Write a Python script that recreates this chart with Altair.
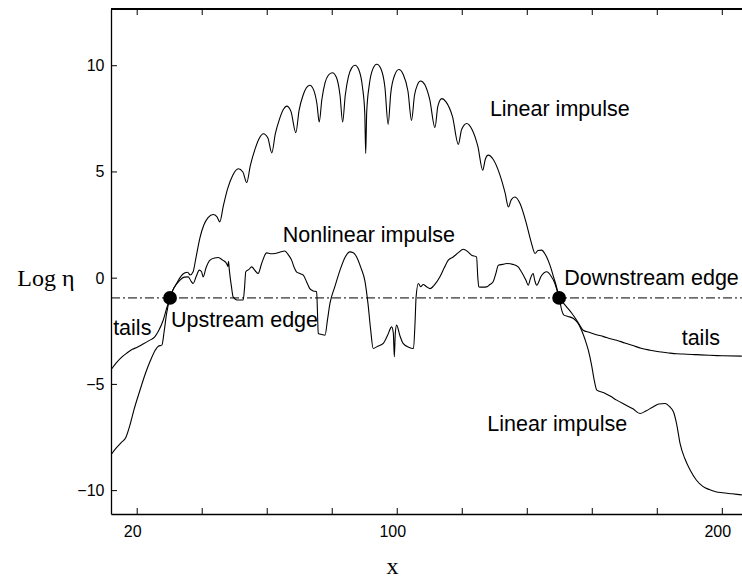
import altair as alt
import pandas as pd

# ---------------- data ----------------
lin_x = [12.0, 13.5, 15.0, 16.5, 17.8, 19.0, 20.8, 22.5, 24.0, 25.5, 26.5, 27.6, 28.3, 29.0, 30.1,
         31.0, 32.1, 33.5, 34.7, 35.5, 36.3, 37.2, 38.0, 39.3, 40.5, 41.8, 43.4, 44.5, 45.4,
         46.5, 47.8, 49.4, 51.1, 52.5, 53.7, 54.8, 56.3, 57.6, 58.8, 60.2, 61.4, 62.5, 63.8,
         65.0, 66.0, 67.3, 68.8, 69.8, 71.0, 72.0, 73.1, 74.3, 75.3, 76.0, 76.8, 77.8, 78.8,
         80.0, 81.3, 82.4, 83.2, 84.0, 85.0, 86.0, 87.0, 88.2, 89.3, 90.0, 90.3, 90.6, 91.4,
         92.5, 93.7, 95.0, 96.2, 97.2, 98.0, 99.2, 100.5, 101.8, 103.3, 104.4, 105.3, 106.2,
         107.2, 108.5, 110.0, 111.6, 112.5, 113.7, 115.0, 117.0, 118.8, 119.8, 121.4, 123.0,
         124.8, 126.3, 127.1, 128.0, 129.5, 131.5, 133.2, 134.2, 135.1, 136.2, 137.8, 139.5,
         141.2, 142.4, 143.3, 144.4, 145.6, 147.0, 148.2, 149.0, 149.8, 150.6, 151.3, 152.5,
         154.2, 155.5, 156.7, 157.8, 158.8, 159.8, 160.6, 161.4, 163.4, 165.5, 167.5, 170.0,
         172.5, 174.7, 176.5, 178.8, 180.5, 182.4, 183.8, 185.0, 186.0, 187.0, 188.5, 190.1,
         192.0, 194.0, 196.0, 198.0, 200.0, 203.0, 206.0]
lin_y = [-8.3, -8.0, -7.75, -7.5, -6.9, -6.2, -5.3, -4.5, -3.9, -3.4, -3.2, -3.15, -2.5, -1.7, -0.93,
         -0.55, -0.25, 0.1, 0.25, 0.28, 0.15, 0.3, 0.9, 1.9, 2.5, 2.85, 3.0, 2.9, 2.65,
         3.4, 4.2, 4.85, 5.15, 5.0, 4.5, 5.3, 6.1, 6.6, 6.8, 6.6, 5.9, 6.8, 7.5,
         7.95, 8.1, 7.85, 6.85, 7.9, 8.6, 8.95, 9.08, 8.85, 8.2, 7.35, 8.4, 9.2, 9.55,
         9.67, 9.45, 8.6, 7.35, 8.6, 9.5, 9.9, 10.02, 9.8, 9.0, 7.8, 5.87, 7.8, 9.1,
         9.85, 10.07, 9.85, 9.0, 7.24, 8.7, 9.55, 9.82, 9.6, 8.8, 7.43, 8.6, 9.1,
         9.28, 9.1, 8.4, 7.09, 8.1, 8.45, 8.3, 7.6, 6.3, 7.0, 7.28, 7.0,
         6.2, 5.08, 5.6, 5.79, 5.6, 4.9, 4.0, 3.35, 3.7, 3.82, 3.5, 2.7,
         1.7, 1.16, 1.3, 1.32, 1.1, 0.6, 0.0, -0.41, -0.93, -1.5, -1.74, -1.8,
         -1.9, -2.1, -2.45, -2.9, -3.4, -4.1, -4.8, -5.27, -5.38, -5.55, -5.74, -5.95,
         -6.15, -6.37, -6.25, -6.05, -5.92, -5.9, -6.05, -6.3, -6.9, -7.78, -8.5, -9.03,
         -9.5, -9.8, -9.95, -10.05, -10.1, -10.15, -10.2]

non_x = [12.0, 13.5, 15.0, 16.7, 18.5, 20.0, 21.8, 23.5, 25.4, 26.5, 28.0, 29.0, 30.1, 31.0, 32.0,
         33.1, 34.5, 35.7, 36.6, 37.2, 38.2, 39.1, 39.8, 40.3, 41.2, 42.4, 43.8, 44.9, 46.3,
         47.5, 47.9, 48.1, 48.3, 49.0, 49.5, 50.3, 51.1, 52.6, 53.0, 53.4, 54.3, 55.2, 56.3,
         57.2, 58.3, 59.8, 61.0, 62.4, 63.8, 65.4, 66.5, 67.5, 68.3, 69.0, 70.0, 71.1, 72.2,
         73.1, 74.2, 75.2, 75.5, 75.7, 76.8, 77.8, 78.5, 79.3, 80.8, 82.4, 84.0, 85.4, 86.5,
         87.5, 88.8, 90.1, 91.0, 91.8, 92.6, 94.0, 95.7, 97.0, 98.3, 98.8, 99.1, 99.4, 99.8,
         100.8, 101.8, 103.5, 105.0, 105.5, 105.8, 106.5, 107.2, 108.0, 109.0, 110.1, 111.5,
         113.1, 114.5, 115.7, 117.2, 118.8, 120.3, 121.7, 122.9, 124.4, 124.8, 125.1, 126.3,
         127.5, 128.5, 129.5, 130.3, 131.1, 132.5, 133.7, 135.5, 137.2, 138.0, 138.8, 139.6,
         140.3, 141.0, 141.8, 142.3, 142.9, 144.3, 146.0, 147.3, 148.5, 149.2, 149.8, 151.0,
         152.1, 153.7, 155.2, 156.3, 157.2, 159.0, 161.0, 163.5, 165.5, 167.5, 170.0, 172.5,
         175.0, 177.8, 180.5, 183.5, 186.0, 188.0, 192.0, 196.0, 200.0, 206.0]
non_y = [-4.3, -4.0, -3.75, -3.54, -3.35, -3.25, -3.1, -2.95, -2.76, -2.5, -1.98, -1.45, -0.93, -0.55, -0.3,
         -0.1, 0.05, 0.06, -0.15, -0.25, 0.1, 0.38, 0.3, 0.06, 0.5, 0.85, 0.95, 0.97, 0.85,
         0.69, 0.55, 0.8, 0.45, -0.4, -0.88, -1.0, -1.03, -1.03, -0.5, 0.3, 0.4, 0.53, 0.35,
         0.22, 0.7, 1.19, 1.15, 1.16, 1.22, 1.28, 1.1, 0.85, 0.5, 0.3, 0.22, 0.14, -0.2,
         -0.49, -0.6, -0.64, -1.8, -2.6, -2.65, -2.68, -2.0, -1.19, -0.4, 0.38, 1.0, 1.24, 1.2,
         1.0, 0.5, -0.17, -1.2, -2.4, -3.31, -3.2, -3.07, -2.7, -2.29, -2.6, -3.7, -2.6, -2.21,
         -2.7, -3.07, -3.25, -3.31, -2.0, -0.88, -0.25, -0.4, -0.3, -0.4, -0.49, -0.3,
         0.06, 0.5, 0.85, 1.0, 1.2, 1.36, 1.25, 1.08, 1.0, 0.0, -0.41, -0.42,
         -0.41, -0.3, -0.17, 0.2, 0.61, 0.65, 0.69, 0.65, 0.53, 0.35, 0.14, -0.1,
         -0.33, 0.0, 0.22, -0.1, -0.33, 0.1, 0.3, 0.1, -0.25, -0.6, -0.93, -1.15,
         -1.35, -1.65, -1.98, -2.25, -2.45, -2.55, -2.65, -2.75, -2.85, -2.92, -3.05, -3.17,
         -3.3, -3.39, -3.46, -3.52, -3.56, -3.57, -3.6, -3.63, -3.65, -3.67]

edge_x = [30.1, 149.8]
edge_y = [-0.93, -0.93]
threshold = [-0.93]

x_tick_values = [20, 40, 60, 80, 100, 120, 140, 160, 180, 200]
x_tick_labels = [20, 100, 200]
y_tick_values = [-10, -5, 0, 5, 10]

ann_text = ["Linear impulse", "Nonlinear impulse", "Upstream edge", "tails",
            "Downstream edge", "tails", "Linear impulse"]
ann_x = [128.5, 64.8, 30.4, 12.6, 151.4, 187.5, 127.7]
ann_y = [7.9, 1.98, -2.0, -2.37, -0.06, -2.84, -6.91]

X_DOMAIN = [11.94, 206.06]
Y_DOMAIN = [-11.1, 12.67]
W, H = 631, 505

# ---------------- tables ----------------
curves = pd.concat([
    pd.DataFrame({"x": lin_x, "y": lin_y, "series": "linear"}),
    pd.DataFrame({"x": non_x, "y": non_y, "series": "nonlinear"}),
])
edges = pd.DataFrame({"x": edge_x, "y": edge_y})
thr = pd.DataFrame({"y": threshold})
ann = pd.DataFrame({"text": ann_text, "x": ann_x, "y": ann_y})
xt = pd.DataFrame({"x": x_tick_values})
yt = pd.DataFrame({"y": y_tick_values})

xs = alt.Scale(domain=X_DOMAIN, nice=False, zero=False)
ys = alt.Scale(domain=Y_DOMAIN, nice=False, zero=False)

label_expr = "indexof([" + ",".join(str(v) for v in x_tick_labels) + "], datum.value) >= 0 ? datum.label : ''"

x_axis = alt.Axis(values=x_tick_values, labelExpr=label_expr, ticks=False, grid=False,
                  domain=True, domainColor="black", domainWidth=1.3,
                  labelFont="Liberation Sans", labelFontSize=16, labelColor="black",
                  labelPadding=9, labelOffset=-5,
                  title="x", titleFont="Liberation Serif", titleFontSize=24,
                  titleFontWeight="normal", titleColor="black",
                  titleX=281, titleY=52, titleBaseline="middle", titleAlign="center")
y_axis = alt.Axis(values=y_tick_values, ticks=False, grid=False,
                  domain=True, domainColor="black", domainWidth=1.3,
                  labelFont="Liberation Sans", labelFontSize=16, labelColor="black",
                  labelPadding=7,
                  title="Log η", titleFont="Liberation Serif", titleFontSize=24,
                  titleFontWeight="normal", titleColor="black", titleAngle=0,
                  titleX=-37, titleY=269, titleAlign="right", titleBaseline="middle")

X = alt.X("x:Q", scale=xs, axis=x_axis)
Y = alt.Y("y:Q", scale=ys, axis=y_axis)

lines = alt.Chart(curves).mark_line(color="black", strokeWidth=1.1, interpolate="monotone").encode(
    x=X, y=Y, detail="series:N",
)

dashdot = alt.Chart(thr).mark_rule(color="black", strokeWidth=1, strokeDash=[9, 3, 2, 3]).encode(
    y=Y, x=alt.value(0), x2=alt.value(W),
)

dots = alt.Chart(edges).mark_circle(color="black", opacity=1, size=190).encode(x=X, y=Y)

labels = alt.Chart(ann).mark_text(font="Liberation Sans", fontSize=21.5, align="left",
                                  baseline="middle", color="black").encode(
    x=X, y=Y, text="text:N",
)

tick_bottom = alt.Chart(xt).mark_rule(color="black", strokeWidth=1).encode(
    x=X, y=alt.value(H), y2=alt.value(H - 6))
tick_top = alt.Chart(xt).mark_rule(color="black", strokeWidth=1).encode(
    x=X, y=alt.value(0), y2=alt.value(6))
tick_left = alt.Chart(yt).mark_rule(color="black", strokeWidth=1).encode(
    y=Y, x=alt.value(0), x2=alt.value(6))
top_frame = alt.Chart(yt).mark_rule(color="black", strokeWidth=1.3).encode(
    x=alt.value(0), x2=alt.value(W), y=alt.value(0))

chart = alt.layer(lines, dashdot, tick_bottom, tick_top, tick_left, top_frame, labels, dots).properties(
    width=W, height=H,
    padding={"left": 111, "top": 9, "right": 0, "bottom": 69},
    autosize=alt.AutoSizeParams(type="none"),
    background="white",
).configure_view(strokeWidth=0)

chart.save("out.html", embed_options={"renderer": "svg", "actions": False})
